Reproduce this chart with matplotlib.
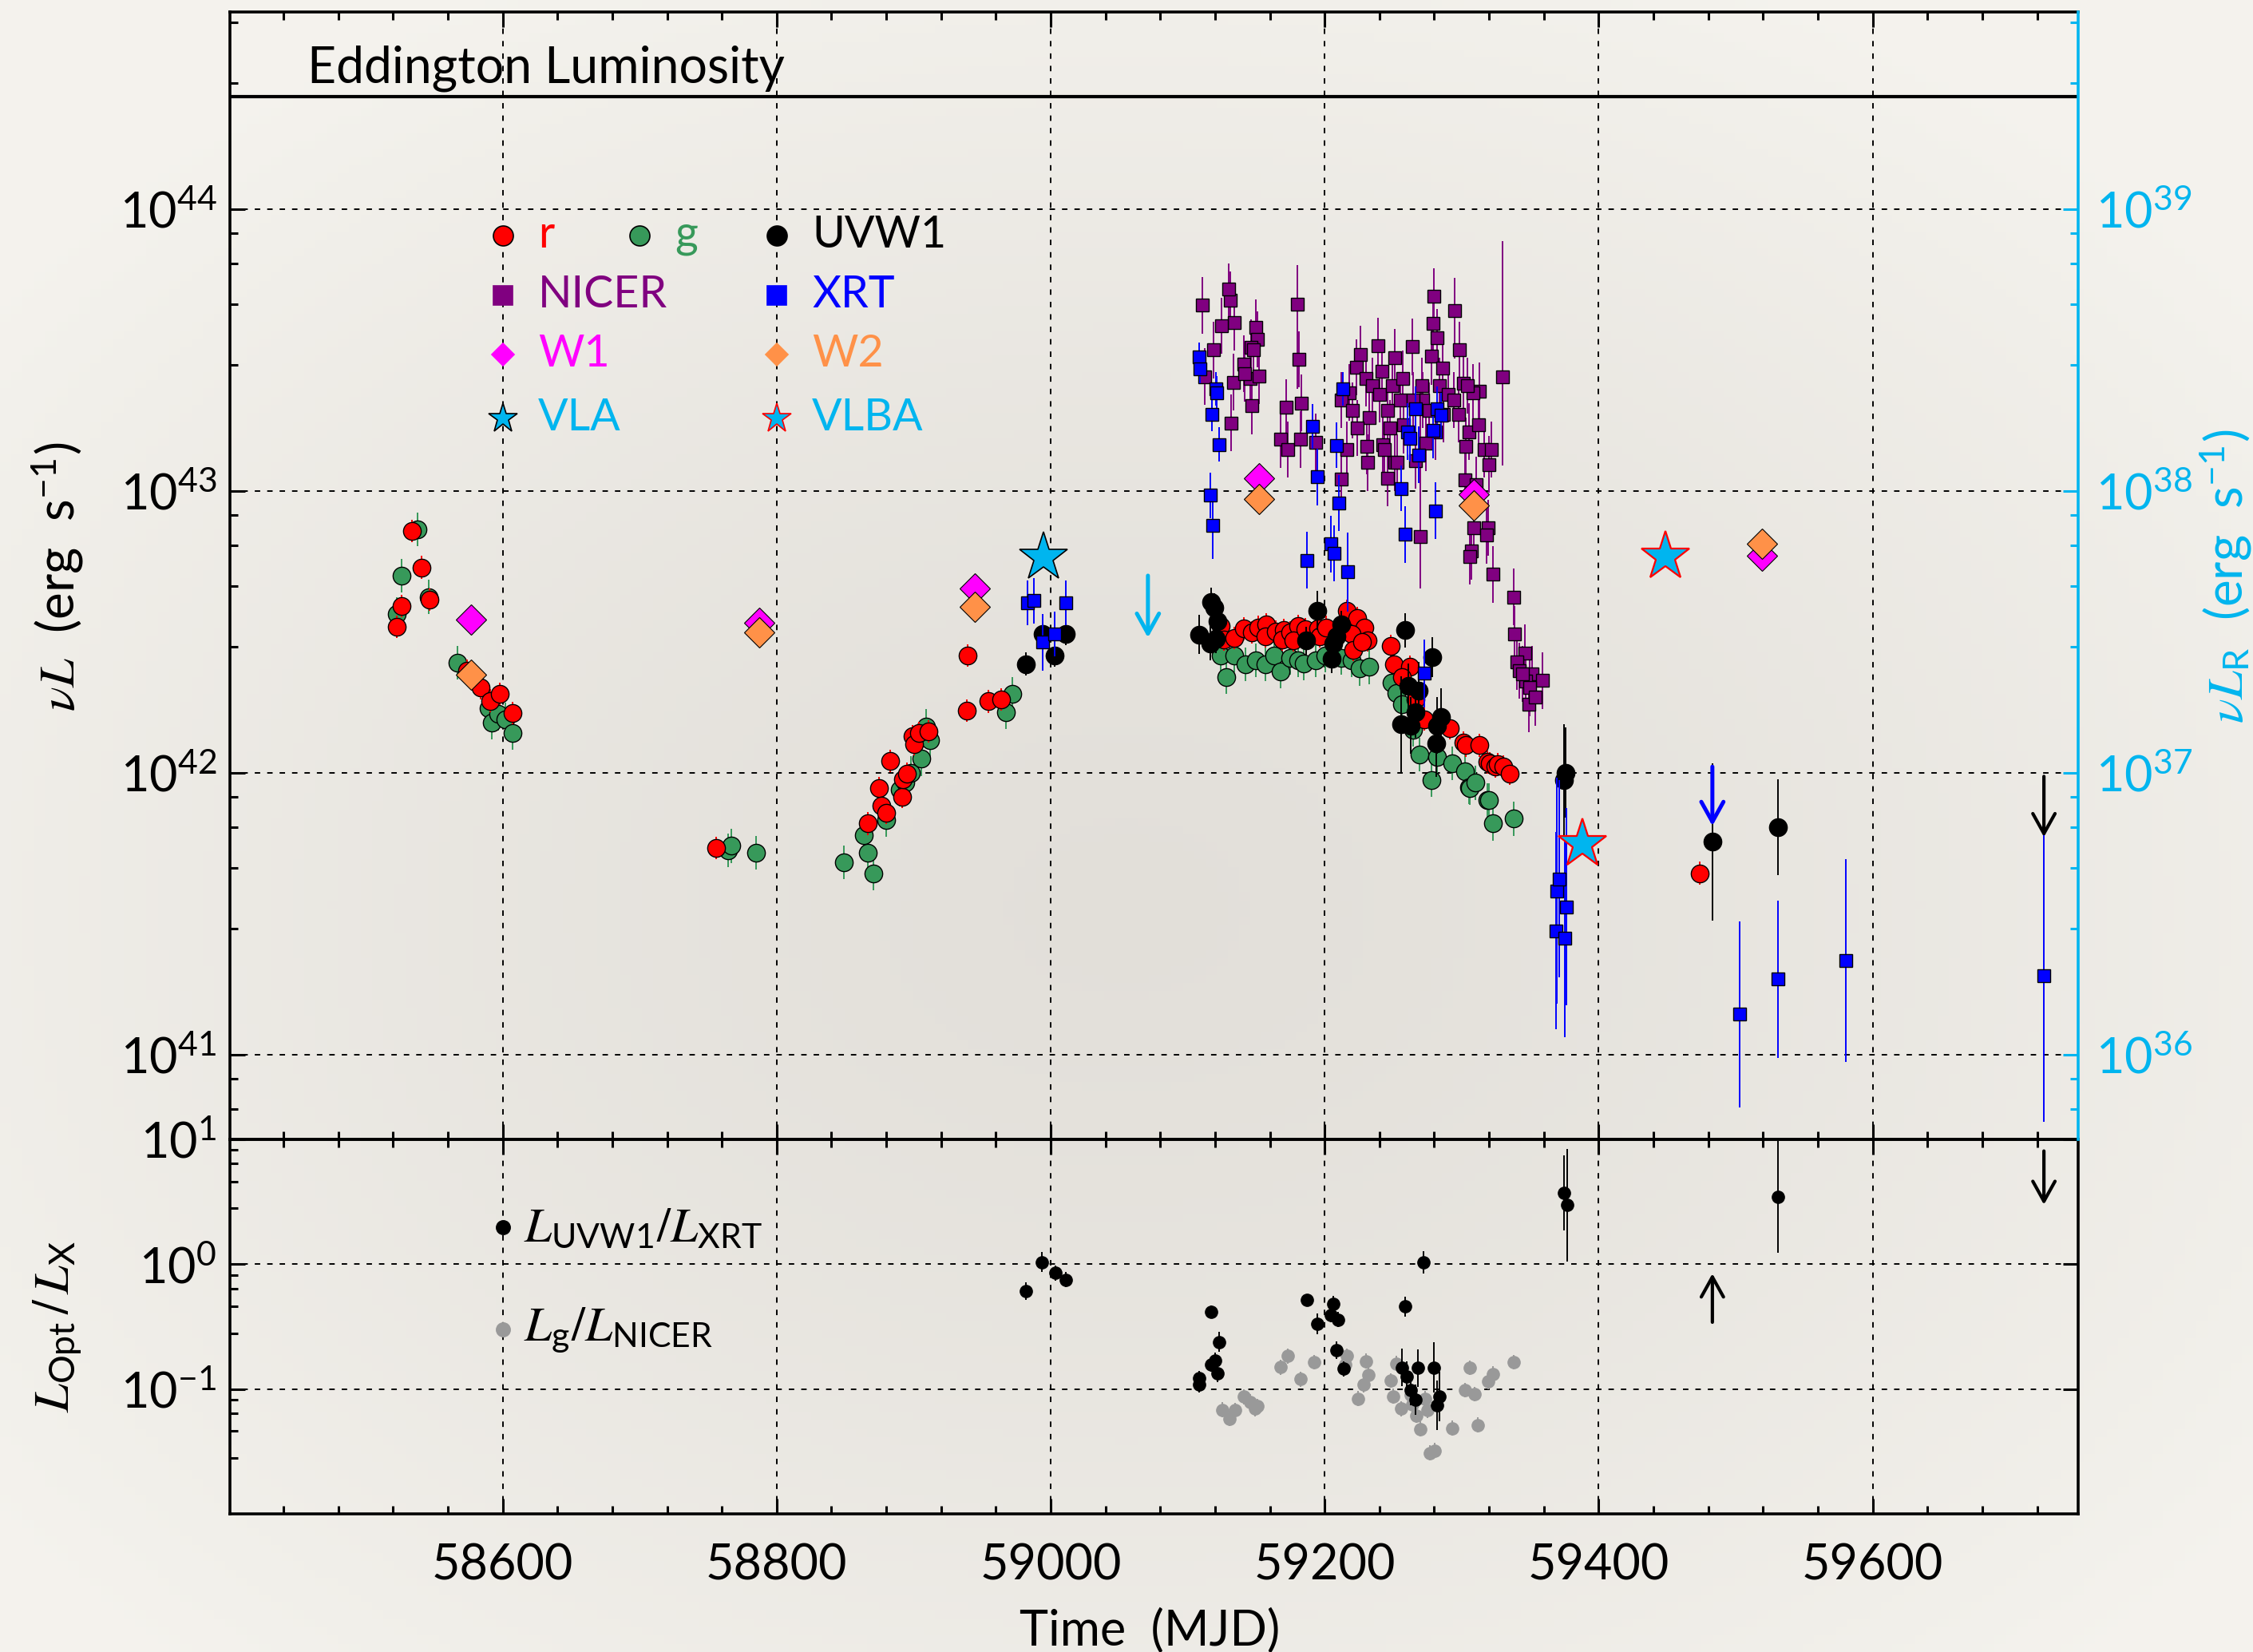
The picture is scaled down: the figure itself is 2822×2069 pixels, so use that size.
import numpy as np
import matplotlib.pyplot as plt
from matplotlib.ticker import FixedLocator, MultipleLocator, NullFormatter

plt.rcParams['font.family'] = ['Lato', 'DejaVu Sans']
plt.rcParams['mathtext.fontset'] = 'stix'

RED = '#FF0000'
GREEN = '#37995A'
PURPLE = '#800080'
BLUE = '#0000FF'
MAGENTA = '#FF00FF'
ORANGE = '#FF9148'
CYAN = '#00B5EF'
GRAY = '#999999'

# ---- upper panel data, luminosities in units of 1e42 erg/s ----
r_mjd = [58522.5, 58526, 58533.6, 58541, 58546.5, 58574, 58584, 58591, 58598, 58607.5,
         58756,
         58866.6, 58874.5, 58876.7, 58880, 58882.6, 58891.5, 58892, 58895, 58899, 58900.4, 58904, 58911,
         58938.8, 58939.5, 58954.5, 58964,
         59124.4, 59126.4, 59134.2, 59141, 59146.8, 59151.6, 59157.5, 59156.5, 59164.3, 59170.1,
         59169.1, 59175, 59180.8, 59176.9, 59185.6, 59195.3, 59196.3, 59201.2, 59216.1, 59223.5,
         59229.3, 59219.6, 59231.3, 59220.6, 59227.4,
         59248.4, 59250.7, 59262.4, 59256.5, 59266.2, 59273, 59291.5, 59301.2, 59303.2, 59312.9,
         59318.7, 59320.7, 59324.5, 59326.5, 59330.4, 59335.2,
         59473.7]
r_L = [3.3, 3.9, 7.2, 5.35, 4.1, 2.3, 2.0, 1.8, 1.9, 1.63,
       0.54,
       0.66, 0.88, 0.765, 0.72, 1.1, 0.82, 0.95, 0.99, 1.35, 1.26, 1.38, 1.40,
       1.66, 2.6, 1.79, 1.82,
       3.31, 2.97, 3.0, 3.24, 3.14, 3.28, 3.35, 3.04, 3.17, 3.21,
       2.97, 3.14, 3.31, 2.94, 3.23, 3.24, 3.04, 3.28, 3.74, 3.54,
       3.28, 3.11, 2.94, 2.72, 2.91,
       2.82, 2.42, 2.37, 2.19, 1.82, 1.55, 1.44, 1.28, 1.25, 1.25,
       1.09, 1.08, 1.05, 1.07, 1.05, 0.99,
       0.44]

g_mjd = [58522.5, 58526, 58538, 58546, 58567, 58589.5, 58592, 58597, 58602, 58607.5,
         58764.6, 58767, 58785,
         58849, 58863.5, 58866.6, 58870.7, 58880, 58889.6, 58894, 58898, 58905.6, 58909, 58911.8,
         58967.6, 58972,
         59124.4, 59128.3, 59134.2, 59141.9, 59149.7, 59156.5, 59163.3, 59168.1, 59175, 59180.8,
         59184.7, 59193.4, 59200.2, 59211.9, 59219.6, 59225.5, 59232.3,
         59248.8, 59252.6, 59256.5, 59264.3, 59269.2, 59277.9, 59281.8, 59293.4, 59302.2, 59305.1,
         59306.1, 59310, 59318.7, 59319.7, 59322.6, 59338.2]
g_L = [3.65, 5.0, 7.3, 4.2, 2.45, 1.69, 1.51, 1.62, 1.54, 1.38,
       0.53, 0.55, 0.52,
       0.48, 0.60, 0.52, 0.44, 0.68, 0.87, 0.92, 1.0, 1.12, 1.46, 1.3,
       1.64, 1.9,
       2.61, 2.19, 2.61, 2.42, 2.5, 2.42, 2.61, 2.29, 2.55, 2.5,
       2.44, 2.5, 2.61, 2.55, 2.5, 2.34, 2.37,
       2.08, 1.92, 1.75, 1.42, 1.16, 0.94, 1.14, 1.08, 1.01, 0.89,
       0.88, 0.92, 0.80, 0.80, 0.66, 0.686]

uvw1_mjd = [58982, 58994, 59003, 59011, 59108.5, 59116.3, 59117.3, 59119.6, 59120.6, 59121.5,
            59186.6, 59194.8, 59205.1, 59206, 59208.9, 59211.9,
            59256, 59258.5, 59261, 59262.7, 59266.2, 59268.8, 59278.5, 59281.2, 59281.8, 59284.7,
            59374.7, 59376, 59482.9, 59530.8]
uvw1_L = [2.43, 3.1, 2.6, 3.1, 3.09, 2.88, 4.03, 3.85, 2.98, 3.45,
          2.94, 3.76, 2.53, 2.88, 3.04, 3.35,
          1.49, 3.2, 2.03, 1.47, 1.64, 1.96, 2.57, 1.27, 1.47, 1.58,
          0.94, 1.0, 0.568, 0.64]
uvw1_dex = [0.04, 0.04, 0.04, 0.04, 0.07, 0.06, 0.05, 0.05, 0.05, 0.05,
            0.05, 0.07, 0.05, 0.05, 0.05, 0.05,
            0.17, 0.06, 0.08, 0.10, 0.09, 0.10, 0.07, 0.12, 0.10, 0.10,
            0.20, 0.16, 0.28, 0.17]

nicer_mjd = [59111, 59131, 59134, 59124.9, 59119, 59149.8, 59151, 59146, 59148, 59141,
             59112.7, 59133.5, 59145.5, 59152, 59141.5, 59147, 59131.5,
             59181, 59172, 59183, 59168, 59173, 59182.5, 59193.6, 59212, 59226, 59239, 59251,
             59264, 59280, 59279, 59282, 59298.5, 59278, 59286, 59301.5, 59312.7,
             59223.4, 59230.1, 59217.8, 59212.3, 59220.4, 59234.6, 59242, 59240.1, 59249.4,
             59256.9, 59255, 59245.7, 59232.7, 59223.8, 59216, 59230.8, 59242.5, 59251.3, 59231.3,
             59271, 59271.7, 59276.2, 59283.6, 59290.3, 59294, 59286.6, 59281, 59273.6, 59266.1,
             59253.1, 59243.8, 59257.4, 59264.3, 59297.7, 59305.2, 59312.6, 59316.3, 59321.9,
             59320, 59303.3, 59308.1, 59245.7, 59247.6, 59304.4,
             59302.2, 59310.8, 59308.9, 59319.3, 59318.2, 59307, 59306, 59323, 59338, 59338.6,
             59346, 59340.5, 59342.3, 59351.6, 59359, 59346.5, 59349.8, 59349, 59353.5, 59344.2]
nicer_L = [45.5, 47.5, 39.6, 38.5, 31.6, 38, 34.5, 32.3, 31.6, 28.2,
           25.4, 24.3, 25, 25.6, 26, 20, 17.4,
           29.3, 19.8, 20.5, 15.2, 14, 15.2, 14.9, 11, 30.5, 32.6, 29.7,
           32.4, 49, 39.3, 35, 31.6, 30, 27.3, 24, 22.6,
           27.4, 25.1, 22.3, 21, 19.3, 23.6, 26.5, 22, 23.6,
           25, 21, 19.3, 18.2, 16.7, 14, 14.4, 14.6, 12.6, 12.6,
           23.6, 21, 19.3, 23.6, 22, 21, 18.7, 16.2, 14.8, 12.8,
           12.6, 14, 17.1, 21, 18.7, 16.2, 17.1, 14, 14,
           12.4, 14.4, 22.3, 11.1, 16.7, 23.6,
           10.9, 10.5, 7.4, 7.4, 6.95, 6.1, 5.85, 5.05, 4.2, 3.1,
           2.66, 2.47, 2.3, 2.24, 2.12, 2.11, 2.0, 1.75, 1.85, 2.24]
# NICER points with large error bars (value, lower end, upper end)
nicer_big_mjd = [59129.7, 59180, 59270, 59294.6, 59329.7]
nicer_big_L = [52, 46, 6.86, 43.7, 25.3]
nicer_big_lo = [38, 23, 4.5, 29.5, 12.3]
nicer_big_hi = [64, 63, 23, 57, 77]

xrt_mjd = [58983, 58988, 58994, 59003, 59011, 59108.2, 59108.9, 59116.7, 59117.5, 59118.2,
           59120.4, 59121.2, 59123, 59187, 59191, 59194.8, 59204.8, 59206.7, 59208.5, 59210.4,
           59213.4, 59216.7, 59256.1, 59258.7, 59260.6, 59262.4, 59266.1, 59268.7, 59272.5,
           59279.2, 59281, 59282.1, 59284.7, 59368.7, 59369.2, 59371.2, 59375.1, 59376.6,
           59502.9, 59530.8, 59580.5, 59725.2]
xrt_L = [4.0, 4.07, 2.9, 3.1, 4.0, 29.9, 27.0, 9.64, 18.7, 7.55,
         23.0, 22.3, 14.6, 5.67, 16.9, 11.2, 6.47, 6.0, 14.5, 9.04,
         23.0, 5.15, 10.2, 7.0, 16.2, 15.3, 19.5, 13.4, 2.25,
         16.4, 8.5, 19.5, 18.5, 0.275, 0.381, 0.42, 0.258, 0.334,
         0.139, 0.185, 0.216, 0.191]
xrt_dex = [0.08, 0.08, 0.10, 0.08, 0.08, 0.05, 0.05, 0.08, 0.06, 0.12,
           0.06, 0.06, 0.06, 0.10, 0.08, 0.10, 0.10, 0.10, 0.08, 0.10,
           0.06, 0.14, 0.08, 0.10, 0.10, 0.08, 0.08, 0.10, 0.12,
           0.10, 0.10, 0.08, 0.08, 0.35, 0.40, 0.35, 0.35, 0.35,
           0.33, 0.28, 0.36, 0.52]

w1_mjd = [58577, 58787, 58944.5, 59152, 59309, 59519]
w1_L = [3.5, 3.4, 4.5, 11.1, 9.7, 5.9]
w2_mjd = [58577, 58787, 58944.5, 59152, 59309, 59519]
w2_L = [2.22, 3.15, 3.87, 9.36, 8.9, 6.5]

# radio, units of 1e37 erg/s (right axis)
vla_mjd = [58994.6]
vla_L = [5.8]
vla_ul_mjd = [59071]
vla_ul = [5.0]
vlba_mjd = [59388.1, 59449]
vlba_L = [0.557, 5.85]

# upper limits, units of 1e42 erg/s
xrt_ul_mjd = [59483]
xrt_ul = [1.05]
uvw1_ul_mjd = [59725]
uvw1_ul = [0.97]

EDD = 2.5e44

# ---- lower panel data ----
ruv_mjd = [58982.1, 58993.6, 59003.5, 59010.8,
           59108.4, 59108.6, 59117.4, 59122.7, 59117.2, 59120, 59121.6,
           59187.2, 59206.2, 59204.6, 59209.9, 59194.6, 59208.8, 59213.6,
           59258.5, 59272.3, 59256.4, 59260.1, 59268, 59279.6, 59262.7, 59266.4, 59283.9, 59281.8,
           59374.8, 59376.9, 59530.7]
ruv = [0.61, 1.04, 0.85, 0.75,
       0.108, 0.122, 0.414, 0.239, 0.157, 0.17, 0.134,
       0.515, 0.484, 0.394, 0.36, 0.333, 0.204, 0.145,
       0.46, 1.04, 0.149, 0.126, 0.148, 0.149, 0.098, 0.082, 0.087, 0.074,
       3.74, 2.97, 3.47]
ruv_dex = [0.07, 0.08, 0.06, 0.06,
           0.06, 0.06, 0.05, 0.08, 0.06, 0.06, 0.07,
           0.05, 0.06, 0.06, 0.06, 0.08, 0.07, 0.06,
           0.08, 0.09, 0.15, 0.12, 0.15, 0.2, 0.12, 0.12, 0.2, 0.2,
           0.3, 0.45, 0.45]

rg_mjd = [59125.3, 59130.6, 59134.8, 59141.2, 59145.4, 59149.1, 59150.7, 59167.6, 59172.9,
          59182.4, 59192.5, 59216.2, 59215.2, 59224.2, 59228.4, 59230, 59232.1, 59248, 59250.1,
          59252.2, 59255.9, 59262.7, 59264, 59267, 59269.6, 59273.3, 59274.9, 59277, 59280.2,
          59292.9, 59302.4, 59306.1, 59309.3, 59311.9, 59319.3, 59323, 59337.8]
rg = [0.068, 0.058, 0.0675, 0.0867, 0.079, 0.0696, 0.0728, 0.150, 0.184,
      0.12, 0.164, 0.184, 0.157, 0.084, 0.108, 0.167, 0.13, 0.117, 0.0877,
      0.16, 0.0696, 0.09, 0.075, 0.0614, 0.0478, 0.084, 0.0675, 0.0308, 0.0322,
      0.0487, 0.098, 0.148, 0.091, 0.0515, 0.115, 0.132, 0.164]
rg_dex = 0.06

ratio_ul_mjd = [59725]
ratio_ul = [8.07]
ratio_ll_mjd = [59483]
ratio_ll = [0.343]


def dexerr(vals, dex):
    v = np.asarray(vals, dtype=float)
    d = np.broadcast_to(np.asarray(dex, dtype=float), v.shape)
    return [v * (1 - 10 ** -d), v * (10 ** d - 1)]


def series(ax, x, y, dex, marker, ms, color, z, mec='k'):
    ax.errorbar(x, y, yerr=dexerr(y, dex), fmt=marker, ms=ms, mfc=color, mec=mec,
                mew=0.5, ecolor=color, elinewidth=0.7, capsize=0, zorder=z)


def limit(ax, x, y, dex, color, lw=1.5, up=False):
    for xi, yi in zip(x, y):
        tip = yi * 10 ** dex if up else yi / 10 ** dex
        ax.annotate('', xy=(xi, tip), xytext=(xi, yi),
                    arrowprops=dict(arrowstyle='->,head_length=0.45,head_width=0.25',
                                    color=color, lw=lw, shrinkA=0, shrinkB=0,
                                    mutation_scale=20), zorder=9)


fig = plt.figure(figsize=(14.11, 10.345), dpi=200)

# paper-like background
bg = fig.add_axes([0, 0, 1, 1], zorder=-10)
bg.axis('off')
yy, xx = np.mgrid[0:1:200j, 0:1:200j]
rr = np.clip(np.sqrt(((xx - 0.5) / 0.62) ** 2 + ((yy - 0.45) / 0.62) ** 2), 0, 1) ** 1.4
c0 = np.array([0.888, 0.876, 0.853])
c1 = np.array([0.957, 0.950, 0.930])
bg.imshow(c0 + (c1 - c0) * rr[..., None], extent=[0, 1, 0, 1], aspect='auto', origin='lower')

L0, W = 0.1021, 0.8203
ax1 = fig.add_axes([L0, 0.3103, W, 0.6825])
ax2 = fig.add_axes([L0, 0.0836, W, 0.2267])
ax1r = ax1.twinx()

for ax in (ax1, ax2, ax1r):
    ax.set_facecolor('none')
    for s in ax.spines.values():
        s.set_linewidth(1.3)

E = 1e42
series(ax1, g_mjd, np.array(g_L) * E, 0.06, 'o', 8, GREEN, 3)
series(ax1, r_mjd, np.array(r_L) * E, 0.04, 'o', 8, RED, 4)
series(ax1, uvw1_mjd, np.array(uvw1_L) * E, uvw1_dex, 'o', 8, 'k', 5)
series(ax1, nicer_mjd, np.array(nicer_L) * E, 0.1, 's', 6, PURPLE, 6)
ax1.errorbar(nicer_big_mjd, np.array(nicer_big_L) * E,
             yerr=[(np.array(nicer_big_L) - nicer_big_lo) * E,
                   (np.array(nicer_big_hi) - nicer_big_L) * E],
             fmt='s', ms=6, mfc=PURPLE, mec='k', mew=0.5, ecolor=PURPLE,
             elinewidth=0.7, capsize=0, zorder=6)
series(ax1, xrt_mjd, np.array(xrt_L) * E, xrt_dex, 's', 6, BLUE, 7)
ax1.plot(w1_mjd, np.array(w1_L) * E, 'D', ms=9.7, mfc=MAGENTA, mec='k', mew=0.4, zorder=8)
ax1.plot(w2_mjd, np.array(w2_L) * E, 'D', ms=9.7, mfc=ORANGE, mec='k', mew=0.4, zorder=8)
limit(ax1, xrt_ul_mjd, np.array(xrt_ul) * E, 0.21, BLUE, lw=1.8)
limit(ax1, uvw1_ul_mjd, np.array(uvw1_ul) * E, 0.215, 'k')

ax1.axhline(EDD, color='k', lw=1.5, zorder=2)
ax1.text(0.042, 0.937, 'Eddington Luminosity', transform=ax1.transAxes, fontsize=22.5,
         va='baseline', ha='left')

# radio on the right axis
ax1r.plot(vla_mjd, np.array(vla_L) * 1e37, '*', ms=23, mfc=CYAN, mec='k', mew=0.6, zorder=10)
ax1r.plot(vlba_mjd, np.array(vlba_L) * 1e37, '*', ms=23, mfc=CYAN, mec=RED, mew=0.8, zorder=10)
limit(ax1r, vla_ul_mjd, np.array(vla_ul) * 1e37, 0.22, CYAN, lw=1.8)

# lower panel
series(ax2, rg_mjd, rg, rg_dex, 'o', 5.5, GRAY, 3, mec=GRAY)
series(ax2, ruv_mjd, ruv, ruv_dex, 'o', 5.5, 'k', 4)
limit(ax2, ratio_ul_mjd, ratio_ul, 0.43, 'k')
limit(ax2, ratio_ll_mjd, ratio_ll, 0.39, 'k', up=True)

# axes, ticks, grid
for ax in (ax1, ax2):
    ax.set_xlim(58401, 59750)
    ax.xaxis.set_major_locator(MultipleLocator(200))
    ax.xaxis.set_minor_locator(MultipleLocator(40))
    ax.set_yscale('log')
    ax.set_axisbelow(True)
    ax.grid(True, which='major', color='k', lw=0.7, ls=(0, (3.5, 4.5)))
    ax.tick_params(which='both', direction='in', top=True, width=1.1, labelsize=22)
    ax.tick_params(which='major', length=7)
    ax.tick_params(which='minor', length=3.6)
    ax.tick_params(axis='y', pad=6)


def minor_log(lo, hi):
    return FixedLocator([m * 10.0 ** e for e in range(lo, hi) for m in (2.8, 4.6, 6.4, 8.2)])


ax1.set_ylim(5e40, 5e44)
ax1.yaxis.set_major_locator(FixedLocator([10.0 ** e for e in range(40, 46)]))
ax1.yaxis.set_minor_locator(minor_log(40, 45))
ax1.yaxis.set_minor_formatter(NullFormatter())
ax1.tick_params(labelbottom=False, right=False)
ax1.spines['right'].set_visible(False)

ax1r.set_yscale('log')
ax1r.set_ylim(5e35, 5e39)
ax1r.yaxis.set_major_locator(FixedLocator([10.0 ** e for e in range(35, 41)]))
ax1r.yaxis.set_minor_locator(minor_log(35, 40))
ax1r.yaxis.set_minor_formatter(NullFormatter())
ax1r.tick_params(which='both', direction='in', colors=CYAN, width=1.1, labelsize=22, pad=8)
ax1r.tick_params(which='major', length=7)
ax1r.tick_params(which='minor', length=3.6)
ax1r.spines['right'].set_color(CYAN)
for s in ('left', 'top', 'bottom'):
    ax1r.spines[s].set_visible(False)

ax2.set_ylim(1e-2, 1e1)
ax2.yaxis.set_major_locator(FixedLocator([0.1, 1.0, 10.0]))
ax2.yaxis.set_minor_locator(minor_log(-3, 2))
ax2.yaxis.set_minor_formatter(NullFormatter())
ax2.tick_params(right=True)
ax2.tick_params(axis='x', pad=13)

# labels
fig.text(0.0255, 0.651, r'$\nu L$  (erg  s$^{\mathdefault{-1}}$)', rotation=90,
         ha='center', va='center', fontsize=23)
fig.text(0.988, 0.651, r'$\nu L_{\mathdefault{R}}$  (erg  s$^{\mathdefault{-1}}$)', rotation=90,
         ha='center', va='center', fontsize=23, color=CYAN)
fig.text(0.0255, 0.197, r'$L_{\mathdefault{Opt}}\,/\,L_{\mathdefault{X}}$', rotation=90,
         ha='center', va='center', fontsize=23)
fig.text(0.5104, 1 - 2043 / 2069, 'Time  (MJD)', ha='center', va='center', fontsize=22)

# legend of the upper panel
leg = [
    (0.1477, 0.8017, 'o', 9, RED, 'k', 'r', RED),
    (0.2216, 0.8017, 'o', 9, GREEN, 'k', 'g', GREEN),
    (0.2959, 0.8017, 'o', 9, 'k', 'k', 'UVW1', 'k'),
    (0.1477, 0.7486, 's', 8.5, PURPLE, PURPLE, 'NICER', PURPLE),
    (0.2959, 0.7486, 's', 8.5, BLUE, BLUE, 'XRT', BLUE),
    (0.1477, 0.6962, 'D', 7.3, MAGENTA, MAGENTA, 'W1', MAGENTA),
    (0.2959, 0.6962, 'D', 7.3, ORANGE, ORANGE, 'W2', ORANGE),
    (0.1477, 0.6395, '*', 14, CYAN, 'k', 'VLA', CYAN),
    (0.2959, 0.6395, '*', 14, CYAN, RED, 'VLBA', CYAN),
]
for x, y, m, ms, fc, ec, txt, tc in leg:
    ax1.plot([x], [y], m, ms=ms, mfc=fc, mec=ec, mew=0.6, transform=ax1.transAxes,
             clip_on=False, zorder=11)
    ax1.text(x + 0.019, y, txt, color=tc, fontsize=20, va='center', ha='left',
             transform=ax1.transAxes)

# legend of the lower panel
for y, fc, txt in [(0.765, 'k', r'$L_{\mathdefault{UVW1}}/L_{\mathdefault{XRT}}$'),
                   (0.4915, GRAY, r'$L_{\mathdefault{g}}/L_{\mathdefault{NICER}}$')]:
    ax2.plot([0.1477], [y], 'o', ms=5.8, mfc=fc, mec=fc, transform=ax2.transAxes, zorder=11)
    ax2.text(0.159, y, txt, fontsize=22, va='center', ha='left', transform=ax2.transAxes)

fig.savefig('out.png', dpi=200)
